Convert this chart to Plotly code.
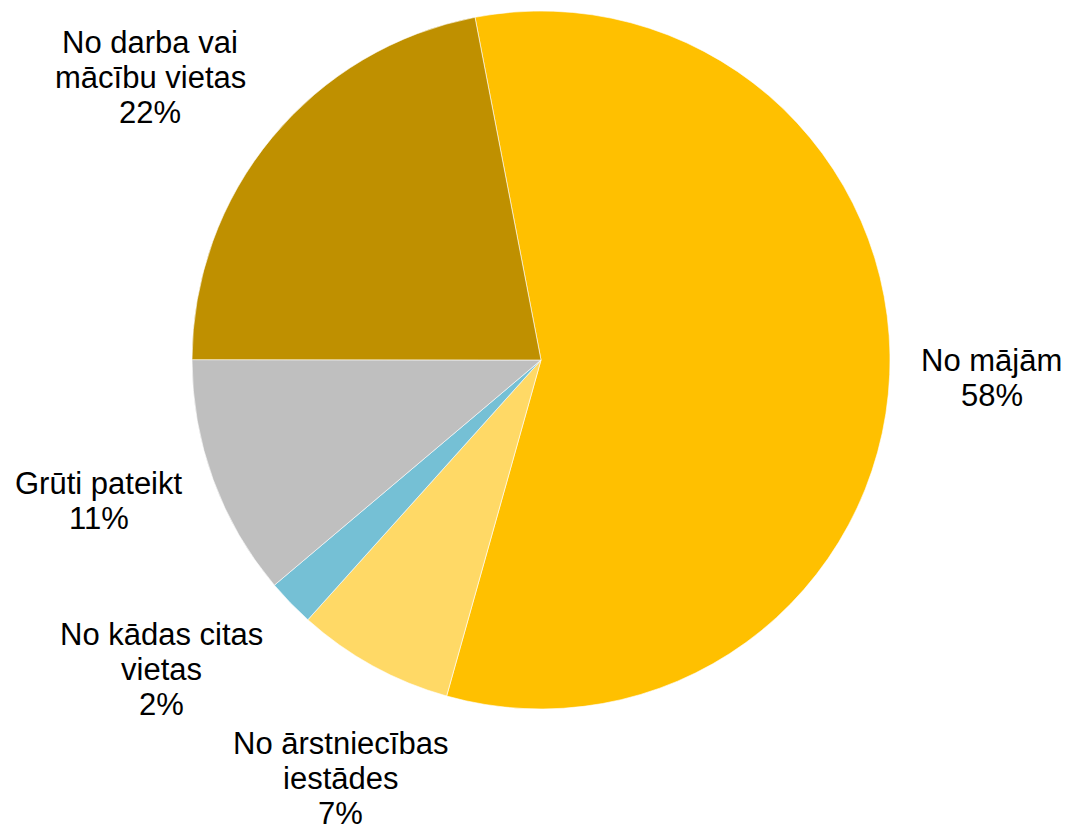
import math
import plotly.graph_objects as go

labels = ["No mājām", "No ārstniecības iestādes", "No kādas citas vietas", "Grūti pateikt", "No darba vai mācību vietas"]
label_lines = [["No mājām"], ["No ārstniecības", "iestādes"], ["No kādas citas", "vietas"], ["Grūti pateikt"], ["No darba vai", "mācību vietas"]]
values = [57.5, 7.3, 2.2, 11.2, 22.0]
colors = ["#ffc000", "#ffd966", "#75c0d5", "#bfbfbf", "#bf9000"]

W, H = 1070, 830
cx, cy, r = 533, 352, 349
rotation = -10.9
FONT = "Arial, Liberation Sans, sans-serif"
FS = 31
LINE_H = 35
# label offsets (screen px) from the slice's mid-angle point on the rim
label_shift = [(102, 3), (-32, 113), (-129, 66), (-114, 21), (-122, -60)]

fig = go.Figure(go.Pie(
    labels=labels,
    values=values,
    sort=False,
    direction="clockwise",
    rotation=rotation,
    marker=dict(colors=colors, line=dict(color="white", width=0.6)),
    textinfo="none",
    showlegend=False,
    hoverinfo="skip",
    domain=dict(x=[(cx - r) / W, (cx + r) / W], y=[(H - cy - r) / H, (H - cy + r) / H]),
))

total = sum(values)
cum = 0
annotations = []
for i, v in enumerate(values):
    mid = math.radians(rotation + 360 * (cum + v / 2) / total)
    cum += v
    px = cx + r * math.sin(mid)
    py = cy - r * math.cos(mid)
    pct = f"{int(v + 0.5)}%"
    lines = label_lines[i] + [pct]
    n = len(lines)
    dx, dy = label_shift[i]
    for j, t in enumerate(lines):
        annotations.append(dict(
            x=px / W, y=(H - py) / H, xref="paper", yref="paper",
            text=t, showarrow=False, xanchor="center", yanchor="middle",
            xshift=dx, yshift=-(dy + (j - (n - 1) / 2) * LINE_H),
            font=dict(family=FONT, size=FS, color="black"),
        ))

fig.update_layout(
    width=W, height=H,
    margin=dict(l=0, r=0, t=0, b=0),
    paper_bgcolor="white",
    plot_bgcolor="white",
    annotations=annotations,
)

fig.write_html("out.html")
